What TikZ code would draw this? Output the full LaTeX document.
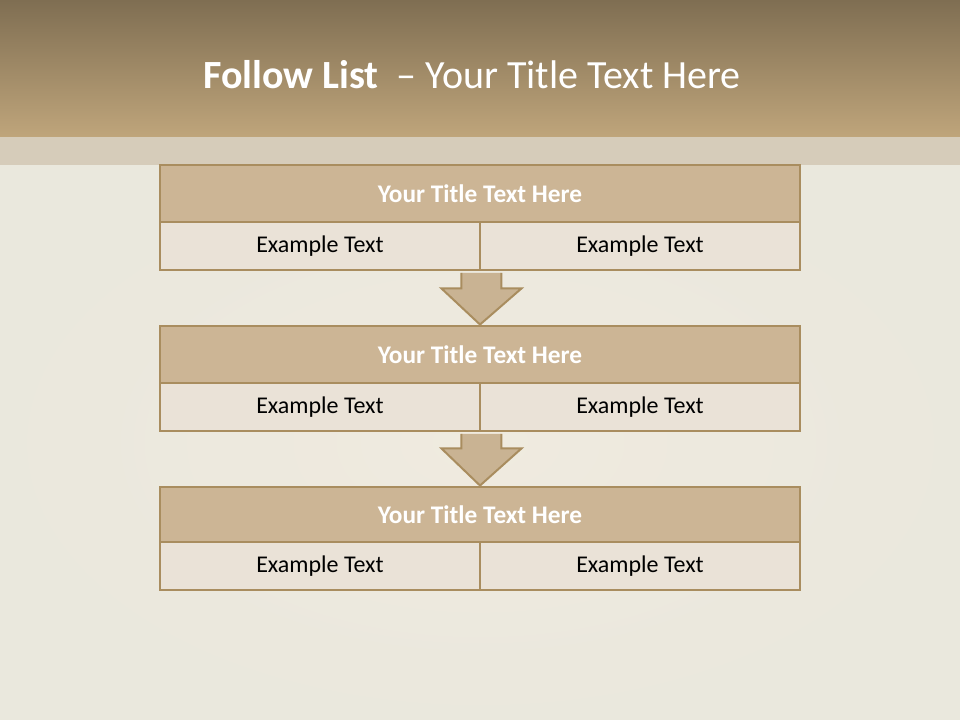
\documentclass[tikz,border=0pt]{standalone}
\usepackage{fontspec}
\setmainfont{Carlito}
\usetikzlibrary{calc}
\definecolor{hdrtop}{HTML}{7F6E52}
\definecolor{hdrbot}{HTML}{BFA57B}
\definecolor{band}{HTML}{D6CCBA}
\definecolor{paper}{HTML}{F0EBDF}
\definecolor{paperedge}{HTML}{E7E6DD}
\definecolor{frame}{HTML}{A98D5F}
\definecolor{titlefill}{HTML}{CCB595}
\definecolor{cellfill}{HTML}{EAE2D7}
\definecolor{arrowfill}{HTML}{C9B393}
\tikzset{
  titlebox/.style={draw=frame, line width=2.2pt, fill=titlefill, minimum width=480pt, minimum height=#1, inner sep=0pt, text=white, font=\fontsize{19}{22}\selectfont\bfseries},
  cellbox/.style={draw=frame, line width=2.2pt, fill=cellfill, minimum width=240pt, minimum height=36pt, inner sep=0pt, text=black, font=\fontsize{18}{21}\selectfont},
  flowarrow/.style={draw=frame, line width=1.5pt, fill=arrowfill, line join=miter}
}
\begin{document}
\begin{tikzpicture}[x=0.75pt,y=-0.75pt]
\useasboundingbox (0,0) rectangle (960,720);
% background
\fill[paper] (0,0) rectangle (960,720);
\shade[inner color=paper, outer color=paperedge, opacity=0.6] (0,165) rectangle (960,720);
\shade[top color=hdrtop, bottom color=hdrbot] (0,0) rectangle (960,137);
\fill[band] (0,137) rectangle (960,165);
\node[text=white, font=\fontsize{30}{34}\selectfont] (title) at (472,75) {\textbf{Follow List}\ \ – Your Title Text Here};

% box 1
\node[titlebox=42.75pt] (t1) at (480,193.5) {Your Title Text Here};
\node[cellbox] (a1) at (320,246) {Example Text};
\node[cellbox] (b1) at (640,246) {Example Text};
% box 2
\node[titlebox=42.75pt] (t2) at (480,354.5) {Your Title Text Here};
\node[cellbox] (a2) at (320,407) {Example Text};
\node[cellbox] (b2) at (640,407) {Example Text};
% box 3
\node[titlebox=41.25pt] (t3) at (480,514.5) {Your Title Text Here};
\node[cellbox] (a3) at (320,566) {Example Text};
\node[cellbox] (b3) at (640,566) {Example Text};

% arrows
\draw[flowarrow] ($(a1.south east)+(-20,1.5)$) -- ($(a1.south east)+(-20,17)$) -- ($(a1.south east)+(-40,17)$)
  -- (t2.north) -- ($(a1.south east)+(40,17)$) -- ($(a1.south east)+(20,17)$) -- ($(a1.south east)+(20,1.5)$);
\draw[flowarrow] ($(a2.south east)+(-20,1.5)$) -- ($(a2.south east)+(-20,16)$) -- ($(a2.south east)+(-40,16)$)
  -- (t3.north) -- ($(a2.south east)+(40,16)$) -- ($(a2.south east)+(20,16)$) -- ($(a2.south east)+(20,1.5)$);
\end{tikzpicture}
\end{document}
